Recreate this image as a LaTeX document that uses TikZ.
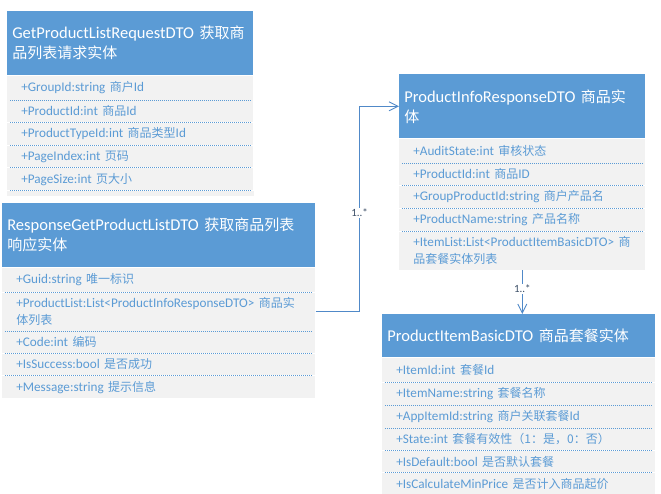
\documentclass[tikz,border=0pt]{standalone}
\usepackage{fontspec}
\setmainfont[Scale=1.1]{Carlito}
\newfontfamily\zhfont{Noto Sans CJK SC}
\newcommand{\zh}[1]{{\zhfont #1}}
\usepackage{tikz}
\usetikzlibrary{arrows.meta,positioning}
\definecolor{umlblue}{HTML}{5B9BD5}
\definecolor{umlgray}{HTML}{F2F2F2}
\definecolor{umlline}{HTML}{5089C8}
\definecolor{umllabel}{HTML}{3B4E66}

\begin{document}
\begin{tikzpicture}[x=1pt,y=-1pt,->,>={Straight Barb[length=9pt,width=9pt]},semithick,node distance=0pt]
\useasboundingbox (0,0) rectangle (661,494);
\tikzstyle{head}=[fill=umlblue,text=white,draw=none,anchor=north west,align=left,inner xsep=5pt,inner ysep=0pt,minimum height=64pt,font=\fontsize{15}{20}\selectfont]
\tikzstyle{field}=[fill=umlgray,text=umlblue,draw=none,align=left,inner xsep=14pt,inner ysep=5pt,minimum height=21.7pt,font=\fontsize{12}{17}\selectfont]
\tikzstyle{first}=[minimum height=24pt]
\tikzstyle{sep}=[-,draw=umlblue,line width=0.6pt,dash pattern=on 1pt off 1pt]
\tikzstyle{assoc}=[draw=umlline,line width=0.9pt]
\tikzstyle{mult}=[fill=white,text=umllabel,inner sep=1pt,font=\fontsize{10}{10}\selectfont]

% GetProductListRequestDTO
\node[head,text width=236pt] (reqH) at (7,11) {GetProductListRequestDTO~\zh{获取商}\\\zh{品列表请求实体}};
\node[field,first,text width=218pt] (req1) [below=of reqH] {+GroupId:string \zh{商户}Id};
\node[field,text width=218pt] (req2) [below=of req1] {+ProductId:int \zh{商品}Id};
\node[field,text width=218pt] (req3) [below=of req2] {+ProductTypeId:int \zh{商品类型}Id};
\node[field,text width=218pt] (req4) [below=of req3] {+PageIndex:int \zh{页码}};
\node[field,text width=218pt] (req5) [below=of req4] {+PageSize:int \zh{页大小}};
\fill[umlgray] (req5.south west) rectangle ([yshift=-5pt]req5.south east);

% ResponseGetProductListDTO
\node[head,text width=303pt] (resH) at (2,203) {ResponseGetProductListDTO~\zh{获取商品列表}\\\zh{响应实体}};
\node[field,first,text width=285pt] (res1) [below=of resH] {+Guid:string \zh{唯一标识}};
\node[field,text width=285pt] (plist) [below=of res1] {+ProductList:List<ProductInfoResponseDTO>~\zh{商品实}\\\zh{体列表}};
\node[field,text width=285pt] (res3) [below=of plist] {+Code:int \zh{编码}};
\node[field,text width=285pt] (res4) [below=of res3] {+IsSuccess:bool \zh{是否成功}};
\node[field,text width=285pt] (res5) [below=of res4] {+Message:string \zh{提示信息}};

% ProductInfoResponseDTO
\node[head,text width=236pt] (infoH) at (399,74) {ProductInfoResponseDTO~\zh{商品实}\\\zh{体}};
\node[field,first,text width=218pt] (info1) [below=of infoH] {+AuditState:int \zh{审核状态}};
\node[field,text width=218pt] (info2) [below=of info1] {+ProductId:int \zh{商品}ID};
\node[field,text width=218pt] (info3) [below=of info2] {+GroupProductId:string \zh{商户产品名}};
\node[field,text width=218pt] (info4) [below=of info3] {+ProductName:string \zh{产品名称}};
\node[field,text width=218pt] (ilist) [below=of info4] {+ItemList:List<ProductItemBasicDTO>~\zh{商}\\\zh{品套餐实体列表}};

% ProductItemBasicDTO
\node[head,text width=263pt,minimum height=43pt] (itemH) at (382,314) {ProductItemBasicDTO~\zh{商品套餐实体}};
\node[field,first,text width=245pt] (item1) [below=of itemH] {+ItemId:int \zh{套餐}Id};
\node[field,text width=245pt] (item2) [below=of item1] {+ItemName:string \zh{套餐名称}};
\node[field,text width=245pt] (item3) [below=of item2] {+AppItemId:string \zh{商户关联套餐}Id};
\node[field,text width=245pt] (item4) [below=of item3] {+State:int~\zh{套餐有效性（1：是，0：否）}};
\node[field,text width=245pt] (item5) [below=of item4] {+IsDefault:bool \zh{是否默认套餐}};
\node[field,text width=245pt] (item6) [below=of item5] {+IsCalculateMinPrice~\zh{是否计入商品起价}};

% dotted row separators
\foreach \r in {req1,req2,req3,req4,req5,res1,plist,res3,res4,info1,info2,info3,info4,item1,item2,item3,item4,item5}
  \draw[sep] ([xshift=3pt]\r.south west) -- ([xshift=-3pt]\r.south east);

% associations
\draw[assoc] (plist.east) -- ++(44,0) |- (infoH.west) node[mult,pos=0.24] {1..*};
\draw[assoc] (ilist.south) -- (ilist.south |- itemH.north) node[mult,pos=0.43] {1..*};
\end{tikzpicture}
\end{document}
